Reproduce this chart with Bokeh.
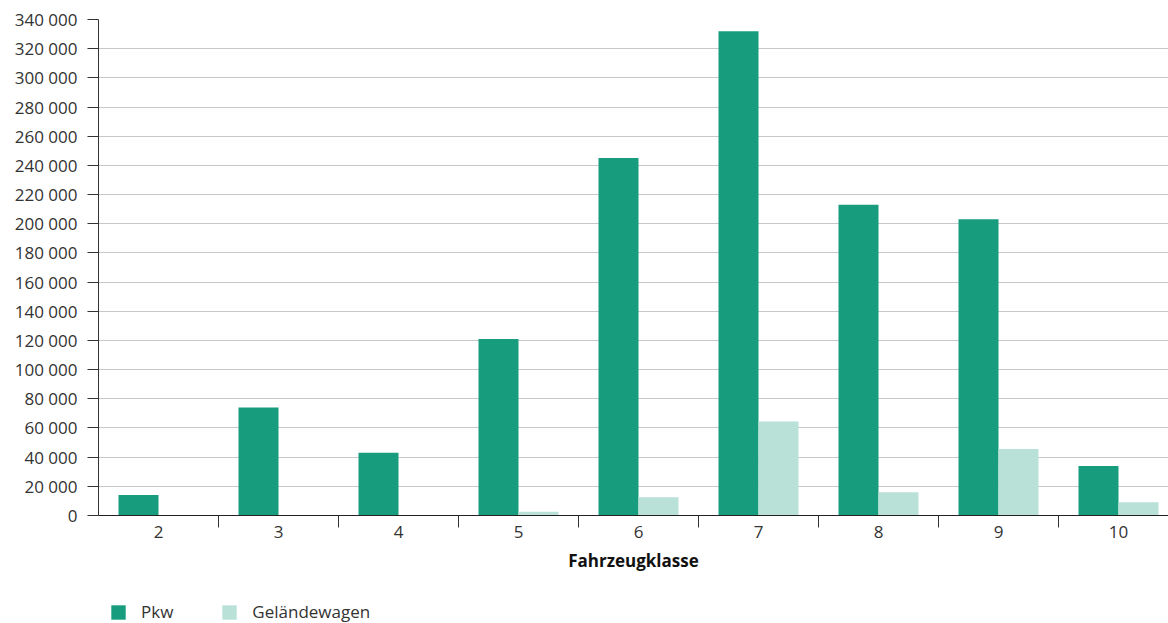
from bokeh.plotting import figure
from bokeh.layouts import column
from bokeh.models import (ColumnDataSource, FixedTicker, CustomJSTickFormatter, Range1d,
                          Legend, LegendItem)
from bokeh.embed import file_html
from bokeh.resources import INLINE

# data
classes = [2, 3, 4, 5, 6, 7, 8, 9, 10]
class_labels = ["2", "3", "4", "5", "6", "7", "8", "9", "10"]
pkw = [14000, 74000, 43000, 121000, 245000, 332000, 213000, 203000, 34000]
gelaende = [0, 0, 0, 2500, 12500, 64500, 16000, 45500, 9000]
y_ticks = list(range(0, 340001, 20000))
series_names = ["Pkw", "Geländewagen"]

FONT = "Open Sans"
TXT = "#333333"
C_PKW = "#189c7e"
C_GEL = "#b9e1d8"

p = figure(width=1168, height=590, output_backend="svg", toolbar_location=None,
           x_range=Range1d(1.5, 10.4167), y_range=Range1d(0, 340000),
           min_border_left=98, min_border_right=0, min_border_top=19, min_border_bottom=75)
p.outline_line_color = None

src = ColumnDataSource(dict(
    x_pkw=[c - 1/6 for c in classes], x_gel=[c + 1/6 for c in classes],
    pkw=pkw, gel=gelaende))
p.vbar(x="x_pkw", top="pkw", width=1/3, source=src, fill_color=C_PKW, line_color=None)
p.vbar(x="x_gel", top="gel", width=1/3, source=src, fill_color=C_GEL, line_color=None)

# x axis
xa = p.xaxis[0]
xa.ticker = FixedTicker(ticks=classes, minor_ticks=[c + 0.5 for c in classes[:-1]])
xa.major_label_overrides = {c: l for c, l in zip(classes, class_labels)}
xa.major_tick_out = 0
xa.major_tick_in = 0
xa.minor_tick_out = 12
xa.minor_tick_in = 0
xa.minor_tick_line_color = "#333333"
xa.axis_line_color = "#222222"
xa.axis_label = "Fahrzeugklasse"
xa.axis_label_text_font = FONT
xa.axis_label_text_font_style = "bold"
xa.axis_label_text_font_size = "17px"
xa.axis_label_text_color = "#111111"
xa.axis_label_standoff = 8
xa.major_label_text_font = FONT
xa.major_label_text_font_size = "17px"
xa.major_label_text_color = TXT
xa.major_label_standoff = -2

# y axis
ya = p.yaxis[0]
ya.ticker = FixedTicker(ticks=y_ticks)
ya.formatter = CustomJSTickFormatter(code="""
return Math.round(tick).toString().replace(/\\B(?=(\\d{3})+(?!\\d))/g, ' ');
""")
ya.major_tick_out = 11
ya.major_tick_in = 0
ya.minor_tick_out = 0
ya.minor_tick_in = 0
ya.major_tick_line_color = "#333333"
ya.axis_line_color = "#333333"
ya.major_label_text_font = FONT
ya.major_label_text_font_size = "17px"
ya.major_label_text_color = TXT
ya.major_label_standoff = 10

p.xgrid.grid_line_color = None
p.ygrid.grid_line_color = "#c8c8c8"
p.ygrid.ticker = FixedTicker(ticks=y_ticks)

# legend strip below the chart
lg = figure(width=1168, height=33, output_backend="svg", toolbar_location=None,
            x_range=Range1d(0, 1), y_range=Range1d(0, 1),
            x_axis_location=None, y_axis_location=None,
            min_border_left=0, min_border_right=0, min_border_top=0, min_border_bottom=0)
lg.outline_line_color = None
lg.grid.visible = False
lg.background_fill_alpha = 0
lg.border_fill_alpha = 0
d1 = lg.vbar(x=[0.5], top=[0], bottom=[0], width=0.0, fill_color=C_PKW, line_color=None)
d2 = lg.vbar(x=[0.5], top=[0], bottom=[0], width=0.0, fill_color=C_GEL, line_color=None)
legend = Legend(items=[LegendItem(label=series_names[0], renderers=[d1]),
                       LegendItem(label=series_names[1], renderers=[d2])],
                orientation="horizontal", location=(11, 0),
                label_text_font=FONT, label_text_font_size="17px", label_text_color=TXT,
                glyph_width=18, glyph_height=18, label_height=18, spacing=47, label_standoff=14,
                border_line_color=None, background_fill_alpha=0,
                padding=0, margin=0)
lg.add_layout(legend, "center")

layout = column(p, lg, spacing=0)
open("out.html", "w").write(file_html(layout, INLINE))
